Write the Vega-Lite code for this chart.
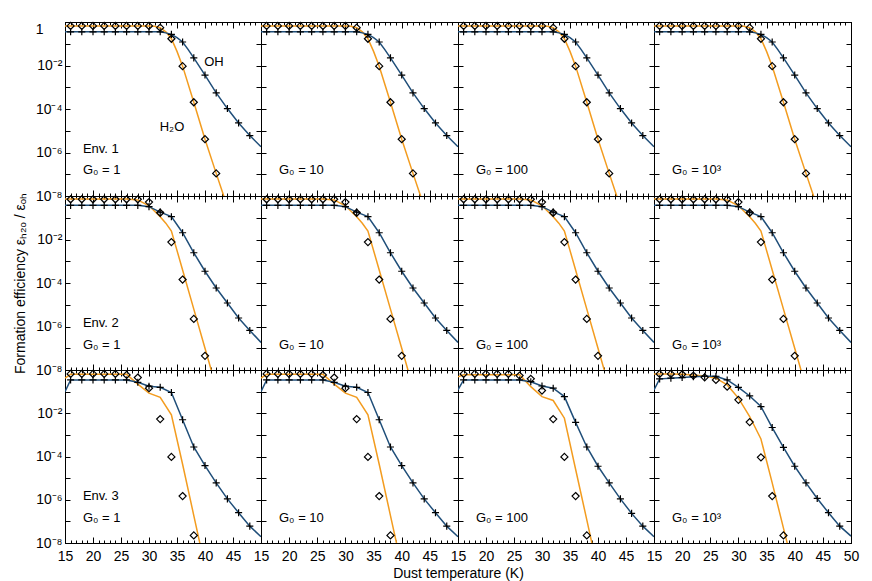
{
"$schema": "https://vega.github.io/schema/vega-lite/v6.json",
"padding": {"left": 12, "top": 19, "right": 4, "bottom": 4},
"background": "white",
"config": {
  "view": {"stroke": "black", "strokeWidth": 1},
  "axis": {"grid": false, "domainColor": "black", "tickColor": "black", "labelColor": "black", "titleColor": "black", "labelFont": "Liberation Sans", "titleFont": "Liberation Sans", "labelFontSize": 14, "titleFontSize": 14, "titleFontWeight": "normal", "domainWidth": 1, "tickWidth": 1, "labelOverlap": false, "labelFlush": false}
},
"datasets": {
"r1": [
{"s":"H2O","T":15,"v":-0.18,"l":1,"m":0},{"s":"H2O","T":16,"v":-0.18,"l":1,"m":1},{"s":"H2O","T":18,"v":-0.18,"l":1,"m":1},{"s":"H2O","T":20,"v":-0.18,"l":1,"m":1},{"s":"H2O","T":22,"v":-0.18,"l":1,"m":1},{"s":"H2O","T":24,"v":-0.18,"l":1,"m":1},{"s":"H2O","T":26,"v":-0.18,"l":1,"m":1},{"s":"H2O","T":28,"v":-0.18,"l":1,"m":1},{"s":"H2O","T":30,"v":-0.18,"l":1,"m":1},{"s":"H2O","T":31,"v":-0.2,"l":1,"m":0},{"s":"H2O","T":32,"v":-0.26,"l":1,"m":1},{"s":"H2O","T":33,"v":-0.45,"l":1,"m":0},{"s":"H2O","T":34,"v":-0.77,"l":1,"m":1},{"s":"H2O","T":35,"v":-1.35,"l":1,"m":0},{"s":"H2O","T":36,"v":-2.03,"l":1,"m":1},{"s":"H2O","T":38,"v":-3.69,"l":1,"m":1},{"s":"H2O","T":40,"v":-5.39,"l":1,"m":1},{"s":"H2O","T":42,"v":-6.96,"l":1,"m":1},{"s":"H2O","T":44,"v":-8.5,"l":1,"m":0},
{"s":"OH","T":15,"v":-0.45,"l":1,"m":0},{"s":"OH","T":16,"v":-0.45,"l":1,"m":1},{"s":"OH","T":18,"v":-0.45,"l":1,"m":1},{"s":"OH","T":20,"v":-0.45,"l":1,"m":1},{"s":"OH","T":22,"v":-0.45,"l":1,"m":1},{"s":"OH","T":24,"v":-0.45,"l":1,"m":1},{"s":"OH","T":26,"v":-0.45,"l":1,"m":1},{"s":"OH","T":28,"v":-0.45,"l":1,"m":1},{"s":"OH","T":30,"v":-0.45,"l":1,"m":1},{"s":"OH","T":32,"v":-0.45,"l":1,"m":1},{"s":"OH","T":33,"v":-0.5,"l":1,"m":0},{"s":"OH","T":34,"v":-0.57,"l":1,"m":1},{"s":"OH","T":35,"v":-0.72,"l":1,"m":0},{"s":"OH","T":36,"v":-0.92,"l":1,"m":1},{"s":"OH","T":37,"v":-1.27,"l":1,"m":0},{"s":"OH","T":38,"v":-1.65,"l":1,"m":1},{"s":"OH","T":40,"v":-2.44,"l":1,"m":1},{"s":"OH","T":42,"v":-3.26,"l":1,"m":1},{"s":"OH","T":44,"v":-3.98,"l":1,"m":1},{"s":"OH","T":46,"v":-4.64,"l":1,"m":1},{"s":"OH","T":48,"v":-5.22,"l":1,"m":1},{"s":"OH","T":50,"v":-5.74,"l":1,"m":0}
],
"r2": [
{"s":"H2O","T":15,"v":-0.14,"l":1,"m":0},{"s":"H2O","T":26,"v":-0.14,"l":1,"m":0},{"s":"H2O","T":28,"v":-0.18,"l":1,"m":0},{"s":"H2O","T":30,"v":-0.45,"l":1,"m":0},{"s":"H2O","T":32,"v":-0.95,"l":1,"m":0},{"s":"H2O","T":33,"v":-1.25,"l":1,"m":0},{"s":"H2O","T":34,"v":-1.61,"l":1,"m":0},{"s":"H2O","T":36,"v":-3.4,"l":1,"m":0},{"s":"H2O","T":38,"v":-5.2,"l":1,"m":0},{"s":"H2O","T":40,"v":-7.0,"l":1,"m":0},{"s":"H2O","T":42,"v":-8.8,"l":1,"m":0},
{"s":"H2O","T":16,"v":-0.15,"l":0,"m":1},{"s":"H2O","T":18,"v":-0.15,"l":0,"m":1},{"s":"H2O","T":20,"v":-0.15,"l":0,"m":1},{"s":"H2O","T":22,"v":-0.15,"l":0,"m":1},{"s":"H2O","T":24,"v":-0.15,"l":0,"m":1},{"s":"H2O","T":26,"v":-0.15,"l":0,"m":1},{"s":"H2O","T":28,"v":-0.15,"l":0,"m":1},{"s":"H2O","T":30,"v":-0.28,"l":0,"m":1},{"s":"H2O","T":32,"v":-0.77,"l":0,"m":1},{"s":"H2O","T":34,"v":-2.12,"l":0,"m":1},{"s":"H2O","T":36,"v":-3.84,"l":0,"m":1},{"s":"H2O","T":38,"v":-5.65,"l":0,"m":1},{"s":"H2O","T":40,"v":-7.35,"l":0,"m":1},
{"s":"OH","T":15,"v":-0.43,"l":1,"m":0},{"s":"OH","T":16,"v":-0.43,"l":1,"m":1},{"s":"OH","T":18,"v":-0.43,"l":1,"m":1},{"s":"OH","T":20,"v":-0.43,"l":1,"m":1},{"s":"OH","T":22,"v":-0.43,"l":1,"m":1},{"s":"OH","T":24,"v":-0.43,"l":1,"m":1},{"s":"OH","T":26,"v":-0.43,"l":1,"m":1},{"s":"OH","T":28,"v":-0.43,"l":1,"m":1},{"s":"OH","T":30,"v":-0.49,"l":1,"m":1},{"s":"OH","T":32,"v":-0.74,"l":1,"m":1},{"s":"OH","T":34,"v":-0.95,"l":1,"m":1},{"s":"OH","T":36,"v":-1.69,"l":1,"m":1},{"s":"OH","T":38,"v":-2.61,"l":1,"m":1},{"s":"OH","T":40,"v":-3.46,"l":1,"m":1},{"s":"OH","T":42,"v":-4.23,"l":1,"m":1},{"s":"OH","T":44,"v":-4.92,"l":1,"m":1},{"s":"OH","T":46,"v":-5.61,"l":1,"m":1},{"s":"OH","T":48,"v":-6.18,"l":1,"m":1},{"s":"OH","T":50,"v":-6.73,"l":1,"m":0}
],
"r3a": [
{"s":"H2O","T":15,"v":-0.38,"l":1,"m":0},{"s":"H2O","T":16,"v":-0.2,"l":1,"m":0},{"s":"H2O","T":26,"v":-0.2,"l":1,"m":0},{"s":"H2O","T":28,"v":-0.65,"l":1,"m":0},{"s":"H2O","T":30,"v":-1.07,"l":1,"m":0},{"s":"H2O","T":32,"v":-1.26,"l":1,"m":0},{"s":"H2O","T":34,"v":-2.07,"l":1,"m":0},{"s":"H2O","T":36,"v":-4.36,"l":1,"m":0},{"s":"H2O","T":38,"v":-6.73,"l":1,"m":0},{"s":"H2O","T":40,"v":-9.1,"l":1,"m":0},
{"s":"H2O","T":16,"v":-0.18,"l":0,"m":1},{"s":"H2O","T":18,"v":-0.18,"l":0,"m":1},{"s":"H2O","T":20,"v":-0.18,"l":0,"m":1},{"s":"H2O","T":22,"v":-0.18,"l":0,"m":1},{"s":"H2O","T":24,"v":-0.18,"l":0,"m":1},{"s":"H2O","T":26,"v":-0.23,"l":0,"m":1},{"s":"H2O","T":28,"v":-0.35,"l":0,"m":1},{"s":"H2O","T":30,"v":-0.84,"l":0,"m":1},{"s":"H2O","T":32,"v":-2.27,"l":0,"m":1},{"s":"H2O","T":34,"v":-4.02,"l":0,"m":1},{"s":"H2O","T":36,"v":-5.83,"l":0,"m":1},{"s":"H2O","T":38,"v":-7.65,"l":0,"m":1},
{"s":"OH","T":15,"v":-1.0,"l":1,"m":0},{"s":"OH","T":16,"v":-0.46,"l":1,"m":1},{"s":"OH","T":18,"v":-0.46,"l":1,"m":1},{"s":"OH","T":20,"v":-0.46,"l":1,"m":1},{"s":"OH","T":22,"v":-0.46,"l":1,"m":1},{"s":"OH","T":24,"v":-0.46,"l":1,"m":1},{"s":"OH","T":26,"v":-0.46,"l":1,"m":1},{"s":"OH","T":28,"v":-0.57,"l":1,"m":1},{"s":"OH","T":30,"v":-0.75,"l":1,"m":1},{"s":"OH","T":32,"v":-0.8,"l":1,"m":1},{"s":"OH","T":34,"v":-1.04,"l":1,"m":1},{"s":"OH","T":36,"v":-2.3,"l":1,"m":1},{"s":"OH","T":38,"v":-3.56,"l":1,"m":1},{"s":"OH","T":40,"v":-4.42,"l":1,"m":1},{"s":"OH","T":42,"v":-5.22,"l":1,"m":1},{"s":"OH","T":44,"v":-5.96,"l":1,"m":1},{"s":"OH","T":46,"v":-6.6,"l":1,"m":1},{"s":"OH","T":48,"v":-7.22,"l":1,"m":1},{"s":"OH","T":50,"v":-7.71,"l":1,"m":0}
],
"r3c": [
{"s":"H2O","T":15,"v":-0.31,"l":1,"m":0},{"s":"H2O","T":16,"v":-0.22,"l":1,"m":0},{"s":"H2O","T":26,"v":-0.22,"l":1,"m":0},{"s":"H2O","T":28,"v":-0.77,"l":1,"m":0},{"s":"H2O","T":30,"v":-1.23,"l":1,"m":0},{"s":"H2O","T":32,"v":-1.41,"l":1,"m":0},{"s":"H2O","T":34,"v":-2.23,"l":1,"m":0},{"s":"H2O","T":36,"v":-4.59,"l":1,"m":0},{"s":"H2O","T":38,"v":-6.93,"l":1,"m":0},{"s":"H2O","T":40,"v":-9.3,"l":1,"m":0},
{"s":"H2O","T":16,"v":-0.18,"l":0,"m":1},{"s":"H2O","T":18,"v":-0.18,"l":0,"m":1},{"s":"H2O","T":20,"v":-0.18,"l":0,"m":1},{"s":"H2O","T":22,"v":-0.18,"l":0,"m":1},{"s":"H2O","T":24,"v":-0.18,"l":0,"m":1},{"s":"H2O","T":26,"v":-0.26,"l":0,"m":1},{"s":"H2O","T":28,"v":-0.41,"l":0,"m":1},{"s":"H2O","T":30,"v":-0.95,"l":0,"m":1},{"s":"H2O","T":32,"v":-2.27,"l":0,"m":1},{"s":"H2O","T":34,"v":-4.02,"l":0,"m":1},{"s":"H2O","T":36,"v":-5.83,"l":0,"m":1},{"s":"H2O","T":38,"v":-7.65,"l":0,"m":1},
{"s":"OH","T":15,"v":-0.92,"l":1,"m":0},{"s":"OH","T":16,"v":-0.46,"l":1,"m":1},{"s":"OH","T":18,"v":-0.46,"l":1,"m":1},{"s":"OH","T":20,"v":-0.46,"l":1,"m":1},{"s":"OH","T":22,"v":-0.46,"l":1,"m":1},{"s":"OH","T":24,"v":-0.46,"l":1,"m":1},{"s":"OH","T":26,"v":-0.46,"l":1,"m":1},{"s":"OH","T":28,"v":-0.54,"l":1,"m":1},{"s":"OH","T":30,"v":-0.74,"l":1,"m":1},{"s":"OH","T":32,"v":-0.84,"l":1,"m":1},{"s":"OH","T":34,"v":-1.23,"l":1,"m":1},{"s":"OH","T":36,"v":-2.42,"l":1,"m":1},{"s":"OH","T":38,"v":-3.56,"l":1,"m":1},{"s":"OH","T":40,"v":-4.45,"l":1,"m":1},{"s":"OH","T":42,"v":-5.22,"l":1,"m":1},{"s":"OH","T":44,"v":-5.96,"l":1,"m":1},{"s":"OH","T":46,"v":-6.63,"l":1,"m":1},{"s":"OH","T":48,"v":-7.22,"l":1,"m":1},{"s":"OH","T":50,"v":-7.71,"l":1,"m":0}
],
"r3d": [
{"s":"H2O","T":15,"v":-0.18,"l":1,"m":0},{"s":"H2O","T":16,"v":-0.18,"l":1,"m":0},{"s":"H2O","T":18,"v":-0.19,"l":1,"m":0},{"s":"H2O","T":20,"v":-0.2,"l":1,"m":0},{"s":"H2O","T":22,"v":-0.23,"l":1,"m":0},{"s":"H2O","T":24,"v":-0.28,"l":1,"m":0},{"s":"H2O","T":26,"v":-0.38,"l":1,"m":0},{"s":"H2O","T":28,"v":-0.69,"l":1,"m":0},{"s":"H2O","T":30,"v":-1.3,"l":1,"m":0},{"s":"H2O","T":32,"v":-2.15,"l":1,"m":0},{"s":"H2O","T":34,"v":-3.19,"l":1,"m":0},{"s":"H2O","T":36,"v":-5.22,"l":1,"m":0},{"s":"H2O","T":38,"v":-7.31,"l":1,"m":0},{"s":"H2O","T":40,"v":-9.4,"l":1,"m":0},
{"s":"H2O","T":16,"v":-0.18,"l":0,"m":1},{"s":"H2O","T":18,"v":-0.18,"l":0,"m":1},{"s":"H2O","T":20,"v":-0.2,"l":0,"m":1},{"s":"H2O","T":22,"v":-0.26,"l":0,"m":1},{"s":"H2O","T":24,"v":-0.34,"l":0,"m":1},{"s":"H2O","T":26,"v":-0.46,"l":0,"m":1},{"s":"H2O","T":28,"v":-0.77,"l":0,"m":1},{"s":"H2O","T":30,"v":-1.38,"l":0,"m":1},{"s":"H2O","T":32,"v":-2.41,"l":0,"m":1},{"s":"H2O","T":34,"v":-4.04,"l":0,"m":1},{"s":"H2O","T":36,"v":-5.83,"l":0,"m":1},{"s":"H2O","T":38,"v":-7.65,"l":0,"m":1},
{"s":"OH","T":15,"v":-0.92,"l":1,"m":0},{"s":"OH","T":16,"v":-0.41,"l":1,"m":1},{"s":"OH","T":18,"v":-0.38,"l":1,"m":1},{"s":"OH","T":20,"v":-0.35,"l":1,"m":1},{"s":"OH","T":22,"v":-0.31,"l":1,"m":1},{"s":"OH","T":24,"v":-0.29,"l":1,"m":1},{"s":"OH","T":26,"v":-0.29,"l":1,"m":1},{"s":"OH","T":28,"v":-0.46,"l":1,"m":1},{"s":"OH","T":30,"v":-0.8,"l":1,"m":1},{"s":"OH","T":32,"v":-1.2,"l":1,"m":1},{"s":"OH","T":34,"v":-1.69,"l":1,"m":1},{"s":"OH","T":36,"v":-2.66,"l":1,"m":1},{"s":"OH","T":38,"v":-3.58,"l":1,"m":1},{"s":"OH","T":40,"v":-4.45,"l":1,"m":1},{"s":"OH","T":42,"v":-5.22,"l":1,"m":1},{"s":"OH","T":44,"v":-5.94,"l":1,"m":1},{"s":"OH","T":46,"v":-6.6,"l":1,"m":1},{"s":"OH","T":48,"v":-7.22,"l":1,"m":1},{"s":"OH","T":50,"v":-7.68,"l":1,"m":0}
]
},
"concat": [
{"width": 196, "height": 174, "data": {"name": "r1"}, "layer": [
 {"transform": [{"filter": "datum.l"}], "mark": {"type": "line", "clip": true, "strokeWidth": 1.5}, "encoding": {
  "x": {"field": "T", "type": "quantitative", "scale": {"domain": [15, 50], "nice": false, "zero": false}, "axis": {"orient": "bottom", "tickCount": 35, "tickSize": {"condition": {"test": "datum.value % 5 === 0", "value": -6}, "value": -3}, "labels": false, "title": null}},
  "y": {"field": "v", "type": "quantitative", "scale": {"domain": [-8, 0], "nice": false, "zero": false}, "axis": {"orient": "left", "tickCount": 8, "tickSize": -5, "labelPadding": {"condition": {"test": "datum.value === 0", "value": 27}, "value": 8}, "labelBaseline": {"condition": {"test": "datum.value === 0", "value": "top"}, "value": "middle"}, "labelExpr": "datum.value === 0 ? '1' : (datum.value % 2 === 0 ? '10⁻' + ['','','²','','⁴','','⁶','','⁸'][-datum.value] : '')", "title": null}},
  "color": {"field": "s", "type": "nominal", "scale": {"domain": ["H2O", "OH"], "range": ["#f39c1f", "#1f4e79"]}, "legend": null}}},
 {"transform": [{"filter": "datum.m"}], "mark": {"type": "point", "filled": false, "color": "black", "strokeWidth": 1.2, "size": 50, "opacity": 1}, "encoding": {
  "x": {"field": "T", "type": "quantitative", "scale": {"domain": [15, 50], "nice": false, "zero": false}, "axis": {"orient": "top", "tickCount": 35, "tickSize": {"condition": {"test": "datum.value % 5 === 0", "value": -6}, "value": -3}, "labels": false, "title": null}},
  "y": {"field": "v", "type": "quantitative", "scale": {"domain": [-8, 0], "nice": false, "zero": false}, "axis": {"orient": "right", "tickCount": 8, "tickSize": -5, "labels": false, "title": null}},
  "shape": {"field": "s", "type": "nominal", "scale": {"domain": ["H2O", "OH"], "range": ["M0,-1L1,0L0,1L-1,0Z", "M-1,0H1M0,-1V1"]}, "legend": null}}},
 {"data": {"values": [{}]}, "mark": {"type": "text", "align": "left", "baseline": "middle", "fontSize": 13, "font": "Liberation Sans"}, "encoding": {"x": {"datum": 18.2, "type": "quantitative", "scale": {"domain": [15, 50], "nice": false, "zero": false}, "axis": null}, "y": {"datum": -5.84, "type": "quantitative", "scale": {"domain": [-8, 0], "nice": false, "zero": false}, "axis": null}, "text": {"value": "Env. 1"}}},
 {"data": {"values": [{}]}, "mark": {"type": "text", "align": "left", "baseline": "middle", "fontSize": 13, "font": "Liberation Sans"}, "encoding": {"x": {"datum": 18.2, "type": "quantitative", "scale": {"domain": [15, 50], "nice": false, "zero": false}, "axis": null}, "y": {"datum": -6.82, "type": "quantitative", "scale": {"domain": [-8, 0], "nice": false, "zero": false}, "axis": null}, "text": {"value": "G₀ = 1"}}},
 {"data": {"values": [{}]}, "mark": {"type": "text", "align": "center", "baseline": "middle", "fontSize": 13, "font": "Liberation Sans"}, "encoding": {"x": {"datum": 41.6, "type": "quantitative", "scale": {"domain": [15, 50], "nice": false, "zero": false}, "axis": null}, "y": {"datum": -1.83, "type": "quantitative", "scale": {"domain": [-8, 0], "nice": false, "zero": false}, "axis": null}, "text": {"value": "OH"}}},
 {"data": {"values": [{}]}, "mark": {"type": "text", "align": "center", "baseline": "middle", "fontSize": 13, "font": "Liberation Sans"}, "encoding": {"x": {"datum": 34.1, "type": "quantitative", "scale": {"domain": [15, 50], "nice": false, "zero": false}, "axis": null}, "y": {"datum": -4.82, "type": "quantitative", "scale": {"domain": [-8, 0], "nice": false, "zero": false}, "axis": null}, "text": {"value": "H₂O"}}}
], "resolve": {"axis": {"x": "independent", "y": "independent"}}},
{"width": 197, "height": 174, "data": {"name": "r1"}, "layer": [
 {"transform": [{"filter": "datum.l"}], "mark": {"type": "line", "clip": true, "strokeWidth": 1.5}, "encoding": {
  "x": {"field": "T", "type": "quantitative", "scale": {"domain": [15, 50], "nice": false, "zero": false}, "axis": {"orient": "bottom", "tickCount": 35, "tickSize": {"condition": {"test": "datum.value % 5 === 0", "value": -6}, "value": -3}, "labels": false, "title": null}},
  "y": {"field": "v", "type": "quantitative", "scale": {"domain": [-8, 0], "nice": false, "zero": false}, "axis": {"orient": "left", "tickCount": 8, "tickSize": -5, "labels": false, "title": null}},
  "color": {"field": "s", "type": "nominal", "scale": {"domain": ["H2O", "OH"], "range": ["#f39c1f", "#1f4e79"]}, "legend": null}}},
 {"transform": [{"filter": "datum.m"}], "mark": {"type": "point", "filled": false, "color": "black", "strokeWidth": 1.2, "size": 50, "opacity": 1}, "encoding": {
  "x": {"field": "T", "type": "quantitative", "scale": {"domain": [15, 50], "nice": false, "zero": false}, "axis": {"orient": "top", "tickCount": 35, "tickSize": {"condition": {"test": "datum.value % 5 === 0", "value": -6}, "value": -3}, "labels": false, "title": null}},
  "y": {"field": "v", "type": "quantitative", "scale": {"domain": [-8, 0], "nice": false, "zero": false}, "axis": {"orient": "right", "tickCount": 8, "tickSize": -5, "labels": false, "title": null}},
  "shape": {"field": "s", "type": "nominal", "scale": {"domain": ["H2O", "OH"], "range": ["M0,-1L1,0L0,1L-1,0Z", "M-1,0H1M0,-1V1"]}, "legend": null}}},
 {"data": {"values": [{}]}, "mark": {"type": "text", "align": "left", "baseline": "middle", "fontSize": 13, "font": "Liberation Sans"}, "encoding": {"x": {"datum": 18.2, "type": "quantitative", "scale": {"domain": [15, 50], "nice": false, "zero": false}, "axis": null}, "y": {"datum": -6.82, "type": "quantitative", "scale": {"domain": [-8, 0], "nice": false, "zero": false}, "axis": null}, "text": {"value": "G₀ = 10"}}}
], "resolve": {"axis": {"x": "independent", "y": "independent"}}},
{"width": 196, "height": 174, "data": {"name": "r1"}, "layer": [
 {"transform": [{"filter": "datum.l"}], "mark": {"type": "line", "clip": true, "strokeWidth": 1.5}, "encoding": {
  "x": {"field": "T", "type": "quantitative", "scale": {"domain": [15, 50], "nice": false, "zero": false}, "axis": {"orient": "bottom", "tickCount": 35, "tickSize": {"condition": {"test": "datum.value % 5 === 0", "value": -6}, "value": -3}, "labels": false, "title": null}},
  "y": {"field": "v", "type": "quantitative", "scale": {"domain": [-8, 0], "nice": false, "zero": false}, "axis": {"orient": "left", "tickCount": 8, "tickSize": -5, "labels": false, "title": null}},
  "color": {"field": "s", "type": "nominal", "scale": {"domain": ["H2O", "OH"], "range": ["#f39c1f", "#1f4e79"]}, "legend": null}}},
 {"transform": [{"filter": "datum.m"}], "mark": {"type": "point", "filled": false, "color": "black", "strokeWidth": 1.2, "size": 50, "opacity": 1}, "encoding": {
  "x": {"field": "T", "type": "quantitative", "scale": {"domain": [15, 50], "nice": false, "zero": false}, "axis": {"orient": "top", "tickCount": 35, "tickSize": {"condition": {"test": "datum.value % 5 === 0", "value": -6}, "value": -3}, "labels": false, "title": null}},
  "y": {"field": "v", "type": "quantitative", "scale": {"domain": [-8, 0], "nice": false, "zero": false}, "axis": {"orient": "right", "tickCount": 8, "tickSize": -5, "labels": false, "title": null}},
  "shape": {"field": "s", "type": "nominal", "scale": {"domain": ["H2O", "OH"], "range": ["M0,-1L1,0L0,1L-1,0Z", "M-1,0H1M0,-1V1"]}, "legend": null}}},
 {"data": {"values": [{}]}, "mark": {"type": "text", "align": "left", "baseline": "middle", "fontSize": 13, "font": "Liberation Sans"}, "encoding": {"x": {"datum": 18.2, "type": "quantitative", "scale": {"domain": [15, 50], "nice": false, "zero": false}, "axis": null}, "y": {"datum": -6.82, "type": "quantitative", "scale": {"domain": [-8, 0], "nice": false, "zero": false}, "axis": null}, "text": {"value": "G₀ = 100"}}}
], "resolve": {"axis": {"x": "independent", "y": "independent"}}},
{"width": 197, "height": 174, "data": {"name": "r1"}, "layer": [
 {"transform": [{"filter": "datum.l"}], "mark": {"type": "line", "clip": true, "strokeWidth": 1.5}, "encoding": {
  "x": {"field": "T", "type": "quantitative", "scale": {"domain": [15, 50], "nice": false, "zero": false}, "axis": {"orient": "bottom", "tickCount": 35, "tickSize": {"condition": {"test": "datum.value % 5 === 0", "value": -6}, "value": -3}, "labels": false, "title": null}},
  "y": {"field": "v", "type": "quantitative", "scale": {"domain": [-8, 0], "nice": false, "zero": false}, "axis": {"orient": "left", "tickCount": 8, "tickSize": -5, "labels": false, "title": null}},
  "color": {"field": "s", "type": "nominal", "scale": {"domain": ["H2O", "OH"], "range": ["#f39c1f", "#1f4e79"]}, "legend": null}}},
 {"transform": [{"filter": "datum.m"}], "mark": {"type": "point", "filled": false, "color": "black", "strokeWidth": 1.2, "size": 50, "opacity": 1}, "encoding": {
  "x": {"field": "T", "type": "quantitative", "scale": {"domain": [15, 50], "nice": false, "zero": false}, "axis": {"orient": "top", "tickCount": 35, "tickSize": {"condition": {"test": "datum.value % 5 === 0", "value": -6}, "value": -3}, "labels": false, "title": null}},
  "y": {"field": "v", "type": "quantitative", "scale": {"domain": [-8, 0], "nice": false, "zero": false}, "axis": {"orient": "right", "tickCount": 8, "tickSize": -5, "labels": false, "title": null}},
  "shape": {"field": "s", "type": "nominal", "scale": {"domain": ["H2O", "OH"], "range": ["M0,-1L1,0L0,1L-1,0Z", "M-1,0H1M0,-1V1"]}, "legend": null}}},
 {"data": {"values": [{}]}, "mark": {"type": "text", "align": "left", "baseline": "middle", "fontSize": 13, "font": "Liberation Sans"}, "encoding": {"x": {"datum": 18.2, "type": "quantitative", "scale": {"domain": [15, 50], "nice": false, "zero": false}, "axis": null}, "y": {"datum": -6.82, "type": "quantitative", "scale": {"domain": [-8, 0], "nice": false, "zero": false}, "axis": null}, "text": {"value": "G₀ = 10³"}}}
], "resolve": {"axis": {"x": "independent", "y": "independent"}}},

{"width": 196, "height": 174, "data": {"name": "r2"}, "layer": [
 {"transform": [{"filter": "datum.l"}], "mark": {"type": "line", "clip": true, "strokeWidth": 1.5}, "encoding": {
  "x": {"field": "T", "type": "quantitative", "scale": {"domain": [15, 50], "nice": false, "zero": false}, "axis": {"orient": "bottom", "tickCount": 35, "tickSize": {"condition": {"test": "datum.value % 5 === 0", "value": -6}, "value": -3}, "labels": false, "title": null}},
  "y": {"field": "v", "type": "quantitative", "scale": {"domain": [-8, 0], "nice": false, "zero": false}, "axis": {"orient": "left", "tickCount": 8, "tickSize": -5, "labelPadding": 8, "labelExpr": "datum.value === 0 ? '' : (datum.value % 2 === 0 ? '10⁻' + ['','','²','','⁴','','⁶','','⁸'][-datum.value] : '')", "title": "Formation efficiency εₕ₂ₒ / εₒₕ", "titlePadding": 8}},
  "color": {"field": "s", "type": "nominal", "scale": {"domain": ["H2O", "OH"], "range": ["#f39c1f", "#1f4e79"]}, "legend": null}}},
 {"transform": [{"filter": "datum.m"}], "mark": {"type": "point", "filled": false, "color": "black", "strokeWidth": 1.2, "size": 50, "opacity": 1}, "encoding": {
  "x": {"field": "T", "type": "quantitative", "scale": {"domain": [15, 50], "nice": false, "zero": false}, "axis": {"orient": "top", "tickCount": 35, "tickSize": {"condition": {"test": "datum.value % 5 === 0", "value": -6}, "value": -3}, "labels": false, "title": null}},
  "y": {"field": "v", "type": "quantitative", "scale": {"domain": [-8, 0], "nice": false, "zero": false}, "axis": {"orient": "right", "tickCount": 8, "tickSize": -5, "labels": false, "title": null}},
  "shape": {"field": "s", "type": "nominal", "scale": {"domain": ["H2O", "OH"], "range": ["M0,-1L1,0L0,1L-1,0Z", "M-1,0H1M0,-1V1"]}, "legend": null}}},
 {"data": {"values": [{}]}, "mark": {"type": "text", "align": "left", "baseline": "middle", "fontSize": 13, "font": "Liberation Sans"}, "encoding": {"x": {"datum": 18.2, "type": "quantitative", "scale": {"domain": [15, 50], "nice": false, "zero": false}, "axis": null}, "y": {"datum": -5.82, "type": "quantitative", "scale": {"domain": [-8, 0], "nice": false, "zero": false}, "axis": null}, "text": {"value": "Env. 2"}}},
 {"data": {"values": [{}]}, "mark": {"type": "text", "align": "left", "baseline": "middle", "fontSize": 13, "font": "Liberation Sans"}, "encoding": {"x": {"datum": 18.2, "type": "quantitative", "scale": {"domain": [15, 50], "nice": false, "zero": false}, "axis": null}, "y": {"datum": -6.84, "type": "quantitative", "scale": {"domain": [-8, 0], "nice": false, "zero": false}, "axis": null}, "text": {"value": "G₀ = 1"}}}
], "resolve": {"axis": {"x": "independent", "y": "independent"}}},
{"width": 197, "height": 174, "data": {"name": "r2"}, "layer": [
 {"transform": [{"filter": "datum.l"}], "mark": {"type": "line", "clip": true, "strokeWidth": 1.5}, "encoding": {
  "x": {"field": "T", "type": "quantitative", "scale": {"domain": [15, 50], "nice": false, "zero": false}, "axis": {"orient": "bottom", "tickCount": 35, "tickSize": {"condition": {"test": "datum.value % 5 === 0", "value": -6}, "value": -3}, "labels": false, "title": null}},
  "y": {"field": "v", "type": "quantitative", "scale": {"domain": [-8, 0], "nice": false, "zero": false}, "axis": {"orient": "left", "tickCount": 8, "tickSize": -5, "labels": false, "title": null}},
  "color": {"field": "s", "type": "nominal", "scale": {"domain": ["H2O", "OH"], "range": ["#f39c1f", "#1f4e79"]}, "legend": null}}},
 {"transform": [{"filter": "datum.m"}], "mark": {"type": "point", "filled": false, "color": "black", "strokeWidth": 1.2, "size": 50, "opacity": 1}, "encoding": {
  "x": {"field": "T", "type": "quantitative", "scale": {"domain": [15, 50], "nice": false, "zero": false}, "axis": {"orient": "top", "tickCount": 35, "tickSize": {"condition": {"test": "datum.value % 5 === 0", "value": -6}, "value": -3}, "labels": false, "title": null}},
  "y": {"field": "v", "type": "quantitative", "scale": {"domain": [-8, 0], "nice": false, "zero": false}, "axis": {"orient": "right", "tickCount": 8, "tickSize": -5, "labels": false, "title": null}},
  "shape": {"field": "s", "type": "nominal", "scale": {"domain": ["H2O", "OH"], "range": ["M0,-1L1,0L0,1L-1,0Z", "M-1,0H1M0,-1V1"]}, "legend": null}}},
 {"data": {"values": [{}]}, "mark": {"type": "text", "align": "left", "baseline": "middle", "fontSize": 13, "font": "Liberation Sans"}, "encoding": {"x": {"datum": 18.2, "type": "quantitative", "scale": {"domain": [15, 50], "nice": false, "zero": false}, "axis": null}, "y": {"datum": -6.84, "type": "quantitative", "scale": {"domain": [-8, 0], "nice": false, "zero": false}, "axis": null}, "text": {"value": "G₀ = 10"}}}
], "resolve": {"axis": {"x": "independent", "y": "independent"}}},
{"width": 196, "height": 174, "data": {"name": "r2"}, "layer": [
 {"transform": [{"filter": "datum.l"}], "mark": {"type": "line", "clip": true, "strokeWidth": 1.5}, "encoding": {
  "x": {"field": "T", "type": "quantitative", "scale": {"domain": [15, 50], "nice": false, "zero": false}, "axis": {"orient": "bottom", "tickCount": 35, "tickSize": {"condition": {"test": "datum.value % 5 === 0", "value": -6}, "value": -3}, "labels": false, "title": null}},
  "y": {"field": "v", "type": "quantitative", "scale": {"domain": [-8, 0], "nice": false, "zero": false}, "axis": {"orient": "left", "tickCount": 8, "tickSize": -5, "labels": false, "title": null}},
  "color": {"field": "s", "type": "nominal", "scale": {"domain": ["H2O", "OH"], "range": ["#f39c1f", "#1f4e79"]}, "legend": null}}},
 {"transform": [{"filter": "datum.m"}], "mark": {"type": "point", "filled": false, "color": "black", "strokeWidth": 1.2, "size": 50, "opacity": 1}, "encoding": {
  "x": {"field": "T", "type": "quantitative", "scale": {"domain": [15, 50], "nice": false, "zero": false}, "axis": {"orient": "top", "tickCount": 35, "tickSize": {"condition": {"test": "datum.value % 5 === 0", "value": -6}, "value": -3}, "labels": false, "title": null}},
  "y": {"field": "v", "type": "quantitative", "scale": {"domain": [-8, 0], "nice": false, "zero": false}, "axis": {"orient": "right", "tickCount": 8, "tickSize": -5, "labels": false, "title": null}},
  "shape": {"field": "s", "type": "nominal", "scale": {"domain": ["H2O", "OH"], "range": ["M0,-1L1,0L0,1L-1,0Z", "M-1,0H1M0,-1V1"]}, "legend": null}}},
 {"data": {"values": [{}]}, "mark": {"type": "text", "align": "left", "baseline": "middle", "fontSize": 13, "font": "Liberation Sans"}, "encoding": {"x": {"datum": 18.2, "type": "quantitative", "scale": {"domain": [15, 50], "nice": false, "zero": false}, "axis": null}, "y": {"datum": -6.84, "type": "quantitative", "scale": {"domain": [-8, 0], "nice": false, "zero": false}, "axis": null}, "text": {"value": "G₀ = 100"}}}
], "resolve": {"axis": {"x": "independent", "y": "independent"}}},
{"width": 197, "height": 174, "data": {"name": "r2"}, "layer": [
 {"transform": [{"filter": "datum.l"}], "mark": {"type": "line", "clip": true, "strokeWidth": 1.5}, "encoding": {
  "x": {"field": "T", "type": "quantitative", "scale": {"domain": [15, 50], "nice": false, "zero": false}, "axis": {"orient": "bottom", "tickCount": 35, "tickSize": {"condition": {"test": "datum.value % 5 === 0", "value": -6}, "value": -3}, "labels": false, "title": null}},
  "y": {"field": "v", "type": "quantitative", "scale": {"domain": [-8, 0], "nice": false, "zero": false}, "axis": {"orient": "left", "tickCount": 8, "tickSize": -5, "labels": false, "title": null}},
  "color": {"field": "s", "type": "nominal", "scale": {"domain": ["H2O", "OH"], "range": ["#f39c1f", "#1f4e79"]}, "legend": null}}},
 {"transform": [{"filter": "datum.m"}], "mark": {"type": "point", "filled": false, "color": "black", "strokeWidth": 1.2, "size": 50, "opacity": 1}, "encoding": {
  "x": {"field": "T", "type": "quantitative", "scale": {"domain": [15, 50], "nice": false, "zero": false}, "axis": {"orient": "top", "tickCount": 35, "tickSize": {"condition": {"test": "datum.value % 5 === 0", "value": -6}, "value": -3}, "labels": false, "title": null}},
  "y": {"field": "v", "type": "quantitative", "scale": {"domain": [-8, 0], "nice": false, "zero": false}, "axis": {"orient": "right", "tickCount": 8, "tickSize": -5, "labels": false, "title": null}},
  "shape": {"field": "s", "type": "nominal", "scale": {"domain": ["H2O", "OH"], "range": ["M0,-1L1,0L0,1L-1,0Z", "M-1,0H1M0,-1V1"]}, "legend": null}}},
 {"data": {"values": [{}]}, "mark": {"type": "text", "align": "left", "baseline": "middle", "fontSize": 13, "font": "Liberation Sans"}, "encoding": {"x": {"datum": 18.2, "type": "quantitative", "scale": {"domain": [15, 50], "nice": false, "zero": false}, "axis": null}, "y": {"datum": -6.84, "type": "quantitative", "scale": {"domain": [-8, 0], "nice": false, "zero": false}, "axis": null}, "text": {"value": "G₀ = 10³"}}}
], "resolve": {"axis": {"x": "independent", "y": "independent"}}},

{"width": 196, "height": 173, "data": {"name": "r3a"}, "layer": [
 {"transform": [{"filter": "datum.l"}], "mark": {"type": "line", "clip": true, "strokeWidth": 1.5}, "encoding": {
  "x": {"field": "T", "type": "quantitative", "scale": {"domain": [15, 50], "nice": false, "zero": false}, "axis": {"orient": "bottom", "tickCount": 35, "tickSize": {"condition": {"test": "datum.value % 5 === 0", "value": -6}, "value": -3}, "labelPadding": 12, "labelExpr": "datum.value % 5 === 0 && datum.value < 50 ? datum.label : ''", "title": null}},
  "y": {"field": "v", "type": "quantitative", "scale": {"domain": [-8, 0], "nice": false, "zero": false}, "axis": {"orient": "left", "tickCount": 8, "tickSize": -5, "labelPadding": 8, "labelExpr": "datum.value === 0 ? '' : (datum.value % 2 === 0 ? '10⁻' + ['','','²','','⁴','','⁶','','⁸'][-datum.value] : '')", "title": null}},
  "color": {"field": "s", "type": "nominal", "scale": {"domain": ["H2O", "OH"], "range": ["#f39c1f", "#1f4e79"]}, "legend": null}}},
 {"transform": [{"filter": "datum.m"}], "mark": {"type": "point", "filled": false, "color": "black", "strokeWidth": 1.2, "size": 50, "opacity": 1}, "encoding": {
  "x": {"field": "T", "type": "quantitative", "scale": {"domain": [15, 50], "nice": false, "zero": false}, "axis": {"orient": "top", "tickCount": 35, "tickSize": {"condition": {"test": "datum.value % 5 === 0", "value": -6}, "value": -3}, "labels": false, "title": null}},
  "y": {"field": "v", "type": "quantitative", "scale": {"domain": [-8, 0], "nice": false, "zero": false}, "axis": {"orient": "right", "tickCount": 8, "tickSize": -5, "labels": false, "title": null}},
  "shape": {"field": "s", "type": "nominal", "scale": {"domain": ["H2O", "OH"], "range": ["M0,-1L1,0L0,1L-1,0Z", "M-1,0H1M0,-1V1"]}, "legend": null}}},
 {"data": {"values": [{}]}, "mark": {"type": "text", "align": "left", "baseline": "middle", "fontSize": 13, "font": "Liberation Sans"}, "encoding": {"x": {"datum": 18.2, "type": "quantitative", "scale": {"domain": [15, 50], "nice": false, "zero": false}, "axis": null}, "y": {"datum": -5.83, "type": "quantitative", "scale": {"domain": [-8, 0], "nice": false, "zero": false}, "axis": null}, "text": {"value": "Env. 3"}}},
 {"data": {"values": [{}]}, "mark": {"type": "text", "align": "left", "baseline": "middle", "fontSize": 13, "font": "Liberation Sans"}, "encoding": {"x": {"datum": 18.2, "type": "quantitative", "scale": {"domain": [15, 50], "nice": false, "zero": false}, "axis": null}, "y": {"datum": -6.85, "type": "quantitative", "scale": {"domain": [-8, 0], "nice": false, "zero": false}, "axis": null}, "text": {"value": "G₀ = 1"}}}
], "resolve": {"axis": {"x": "independent", "y": "independent"}}},
{"width": 197, "height": 173, "data": {"name": "r3a"}, "layer": [
 {"transform": [{"filter": "datum.l"}], "mark": {"type": "line", "clip": true, "strokeWidth": 1.5}, "encoding": {
  "x": {"field": "T", "type": "quantitative", "scale": {"domain": [15, 50], "nice": false, "zero": false}, "axis": {"orient": "bottom", "tickCount": 35, "tickSize": {"condition": {"test": "datum.value % 5 === 0", "value": -6}, "value": -3}, "labelPadding": 12, "labelExpr": "datum.value % 5 === 0 && datum.value < 50 ? datum.label : ''", "title": "Dust temperature (K)", "titleAnchor": "end", "titleAlign": "center", "titlePadding": 0}},
  "y": {"field": "v", "type": "quantitative", "scale": {"domain": [-8, 0], "nice": false, "zero": false}, "axis": {"orient": "left", "tickCount": 8, "tickSize": -5, "labels": false, "title": null}},
  "color": {"field": "s", "type": "nominal", "scale": {"domain": ["H2O", "OH"], "range": ["#f39c1f", "#1f4e79"]}, "legend": null}}},
 {"transform": [{"filter": "datum.m"}], "mark": {"type": "point", "filled": false, "color": "black", "strokeWidth": 1.2, "size": 50, "opacity": 1}, "encoding": {
  "x": {"field": "T", "type": "quantitative", "scale": {"domain": [15, 50], "nice": false, "zero": false}, "axis": {"orient": "top", "tickCount": 35, "tickSize": {"condition": {"test": "datum.value % 5 === 0", "value": -6}, "value": -3}, "labels": false, "title": null}},
  "y": {"field": "v", "type": "quantitative", "scale": {"domain": [-8, 0], "nice": false, "zero": false}, "axis": {"orient": "right", "tickCount": 8, "tickSize": -5, "labels": false, "title": null}},
  "shape": {"field": "s", "type": "nominal", "scale": {"domain": ["H2O", "OH"], "range": ["M0,-1L1,0L0,1L-1,0Z", "M-1,0H1M0,-1V1"]}, "legend": null}}},
 {"data": {"values": [{}]}, "mark": {"type": "text", "align": "left", "baseline": "middle", "fontSize": 13, "font": "Liberation Sans"}, "encoding": {"x": {"datum": 18.2, "type": "quantitative", "scale": {"domain": [15, 50], "nice": false, "zero": false}, "axis": null}, "y": {"datum": -6.85, "type": "quantitative", "scale": {"domain": [-8, 0], "nice": false, "zero": false}, "axis": null}, "text": {"value": "G₀ = 10"}}}
], "resolve": {"axis": {"x": "independent", "y": "independent"}}},
{"width": 196, "height": 173, "data": {"name": "r3c"}, "layer": [
 {"transform": [{"filter": "datum.l"}], "mark": {"type": "line", "clip": true, "strokeWidth": 1.5}, "encoding": {
  "x": {"field": "T", "type": "quantitative", "scale": {"domain": [15, 50], "nice": false, "zero": false}, "axis": {"orient": "bottom", "tickCount": 35, "tickSize": {"condition": {"test": "datum.value % 5 === 0", "value": -6}, "value": -3}, "labelPadding": 12, "labelExpr": "datum.value % 5 === 0 && datum.value < 50 ? datum.label : ''", "title": null}},
  "y": {"field": "v", "type": "quantitative", "scale": {"domain": [-8, 0], "nice": false, "zero": false}, "axis": {"orient": "left", "tickCount": 8, "tickSize": -5, "labels": false, "title": null}},
  "color": {"field": "s", "type": "nominal", "scale": {"domain": ["H2O", "OH"], "range": ["#f39c1f", "#1f4e79"]}, "legend": null}}},
 {"transform": [{"filter": "datum.m"}], "mark": {"type": "point", "filled": false, "color": "black", "strokeWidth": 1.2, "size": 50, "opacity": 1}, "encoding": {
  "x": {"field": "T", "type": "quantitative", "scale": {"domain": [15, 50], "nice": false, "zero": false}, "axis": {"orient": "top", "tickCount": 35, "tickSize": {"condition": {"test": "datum.value % 5 === 0", "value": -6}, "value": -3}, "labels": false, "title": null}},
  "y": {"field": "v", "type": "quantitative", "scale": {"domain": [-8, 0], "nice": false, "zero": false}, "axis": {"orient": "right", "tickCount": 8, "tickSize": -5, "labels": false, "title": null}},
  "shape": {"field": "s", "type": "nominal", "scale": {"domain": ["H2O", "OH"], "range": ["M0,-1L1,0L0,1L-1,0Z", "M-1,0H1M0,-1V1"]}, "legend": null}}},
 {"data": {"values": [{}]}, "mark": {"type": "text", "align": "left", "baseline": "middle", "fontSize": 13, "font": "Liberation Sans"}, "encoding": {"x": {"datum": 18.2, "type": "quantitative", "scale": {"domain": [15, 50], "nice": false, "zero": false}, "axis": null}, "y": {"datum": -6.85, "type": "quantitative", "scale": {"domain": [-8, 0], "nice": false, "zero": false}, "axis": null}, "text": {"value": "G₀ = 100"}}}
], "resolve": {"axis": {"x": "independent", "y": "independent"}}},
{"width": 197, "height": 173, "data": {"name": "r3d"}, "layer": [
 {"transform": [{"filter": "datum.l"}], "mark": {"type": "line", "clip": true, "strokeWidth": 1.5}, "encoding": {
  "x": {"field": "T", "type": "quantitative", "scale": {"domain": [15, 50], "nice": false, "zero": false}, "axis": {"orient": "bottom", "tickCount": 35, "tickSize": {"condition": {"test": "datum.value % 5 === 0", "value": -6}, "value": -3}, "labelPadding": 12, "labelExpr": "datum.value % 5 === 0 ? datum.label : ''", "title": null}},
  "y": {"field": "v", "type": "quantitative", "scale": {"domain": [-8, 0], "nice": false, "zero": false}, "axis": {"orient": "left", "tickCount": 8, "tickSize": -5, "labels": false, "title": null}},
  "color": {"field": "s", "type": "nominal", "scale": {"domain": ["H2O", "OH"], "range": ["#f39c1f", "#1f4e79"]}, "legend": null}}},
 {"transform": [{"filter": "datum.m"}], "mark": {"type": "point", "filled": false, "color": "black", "strokeWidth": 1.2, "size": 50, "opacity": 1}, "encoding": {
  "x": {"field": "T", "type": "quantitative", "scale": {"domain": [15, 50], "nice": false, "zero": false}, "axis": {"orient": "top", "tickCount": 35, "tickSize": {"condition": {"test": "datum.value % 5 === 0", "value": -6}, "value": -3}, "labels": false, "title": null}},
  "y": {"field": "v", "type": "quantitative", "scale": {"domain": [-8, 0], "nice": false, "zero": false}, "axis": {"orient": "right", "tickCount": 8, "tickSize": -5, "labels": false, "title": null}},
  "shape": {"field": "s", "type": "nominal", "scale": {"domain": ["H2O", "OH"], "range": ["M0,-1L1,0L0,1L-1,0Z", "M-1,0H1M0,-1V1"]}, "legend": null}}},
 {"data": {"values": [{}]}, "mark": {"type": "text", "align": "left", "baseline": "middle", "fontSize": 13, "font": "Liberation Sans"}, "encoding": {"x": {"datum": 18.2, "type": "quantitative", "scale": {"domain": [15, 50], "nice": false, "zero": false}, "axis": null}, "y": {"datum": -6.85, "type": "quantitative", "scale": {"domain": [-8, 0], "nice": false, "zero": false}, "axis": null}, "text": {"value": "G₀ = 10³"}}}
], "resolve": {"axis": {"x": "independent", "y": "independent"}}}
],
"columns": 4,
"spacing": 0,
"bounds": "flush"
}
